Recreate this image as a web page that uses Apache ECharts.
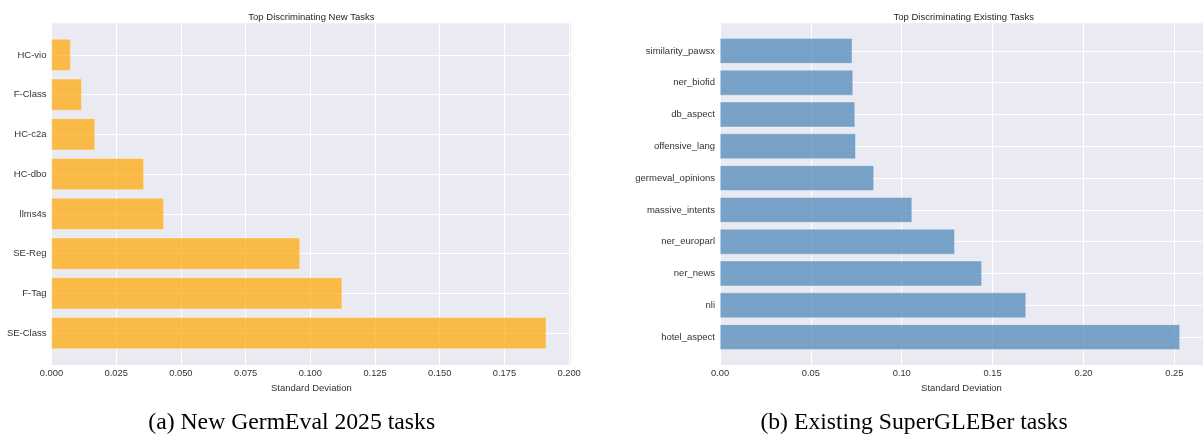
<!DOCTYPE html>
<html>
<head>
<meta charset="utf-8">
<script src="https://cdn.jsdelivr.net/npm/echarts@6/dist/echarts.min.js"></script>
<style>
  html, body { margin: 0; padding: 0; background: #fff; }
  #chart_box { width: 1203px; height: 434px; }
</style>
</head>
<body>
<div id="chart_box"></div>
<script>
// data (bottom to top)
var newTasks = ['SE-Class', 'F-Tag', 'SE-Reg', 'llms4s', 'HC-dbo', 'HC-c2a', 'F-Class', 'HC-vio'];
var newStd = [0.1912, 0.1123, 0.0960, 0.0434, 0.0357, 0.0168, 0.0117, 0.0074];

var existingTasks = ['hotel_aspect', 'nli', 'ner_news', 'ner_europarl', 'massive_intents',
  'germeval_opinions', 'offensive_lang', 'db_aspect', 'ner_biofid', 'similarity_pawsx'];
var existingStd = [0.2531, 0.1684, 0.1441, 0.1292, 0.1057, 0.0847, 0.0747, 0.0743, 0.0732, 0.0728];

var titles = ['Top Discriminating New Tasks', 'Top Discriminating Existing Tasks'];
var captions = ['(a) New GermEval 2025 tasks', '(b) Existing SuperGLEBer tasks'];
var xName = 'Standard Deviation';

var sans = '"Liberation Sans", Arial, sans-serif';
var txtColor = '#333';
var bgColor = '#EAEAF2';

// panel layout
var panels = [
  { left: 51.5, right: 1203 - 571.2, max: 0.2008, interval: 0.025, dec: 3 },
  { left: 720, right: -4.4, max: 0.2658, interval: 0.05, dec: 2 }
];
var plotTop = 23.3, plotBottom = 434 - 365;
var barTop = 35, barBottom = 434 - 353;

var grids = [], xAxes = [], yAxes = [], series = [];
var cats = [newTasks, existingTasks];
var vals = [newStd, existingStd];
var colors = ['orange', 'steelblue'];

panels.forEach(function (p, i) {
  // background grid: grey area, x gridlines, tick labels
  grids.push({ left: p.left, right: p.right, top: plotTop, bottom: plotBottom,
    show: true, backgroundColor: bgColor, borderWidth: 0 });
  xAxes.push({
    type: 'value', gridIndex: 2 * i, min: 0, max: p.max, interval: p.interval,
    name: xName, nameLocation: 'middle', nameGap: 15,
    nameTextStyle: { fontFamily: sans, fontSize: 9.5, color: txtColor },
    axisLine: { show: false }, axisTick: { show: false },
    axisLabel: { fontFamily: sans, fontSize: 9.3, color: txtColor, margin: 4,
      showMaxLabel: false,
      formatter: function (v) { return v.toFixed(p.dec); } },
    splitLine: { show: true, lineStyle: { color: '#fff', width: 1 } }
  });
  yAxes.push({ type: 'value', gridIndex: 2 * i, show: false, splitLine: { show: false } });

  // bar grid
  grids.push({ left: p.left, right: p.right, top: barTop, bottom: barBottom });
  xAxes.push({ type: 'value', gridIndex: 2 * i + 1, min: 0, max: p.max, show: false,
    splitLine: { show: false } });
  yAxes.push({
    type: 'category', gridIndex: 2 * i + 1, data: cats[i],
    axisLine: { show: false }, axisTick: { show: false },
    axisLabel: { fontFamily: sans, fontSize: 9.5, color: txtColor, margin: 5 },
    splitLine: { show: true, alignWithLabel: true, lineStyle: { color: '#fff', width: 1 } }
  });
  series.push({
    type: 'bar', xAxisIndex: 2 * i + 1, yAxisIndex: 2 * i + 1,
    data: vals[i], barWidth: '80%',
    itemStyle: { color: colors[i], opacity: 0.7, borderColor: '#fff', borderWidth: 0.5 },
    emphasis: { disabled: true }
  });
});

var titleList = [];
var centers = [[311.4, 963.7], [291.7, 914]];
titles.forEach(function (t, i) {
  titleList.push({ text: t, left: centers[0][i], top: 12, textAlign: 'center', padding: 0,
    textStyle: { fontFamily: sans, fontSize: 9.5, fontWeight: 'normal', color: '#262626' } });
});
captions.forEach(function (t, i) {
  titleList.push({ text: t, left: centers[1][i], top: 411, textAlign: 'center', padding: 0,
    textStyle: { fontFamily: '"Liberation Serif", "Times New Roman", serif', fontSize: 23.7,
      fontWeight: 'normal', color: '#000' } });
});

var myEcharts = echarts.init(document.getElementById('chart_box'));
myEcharts.setOption({
  animation: false,
  title: titleList,
  grid: grids,
  xAxis: xAxes,
  yAxis: yAxes,
  series: series
});
</script>
</body>
</html>
